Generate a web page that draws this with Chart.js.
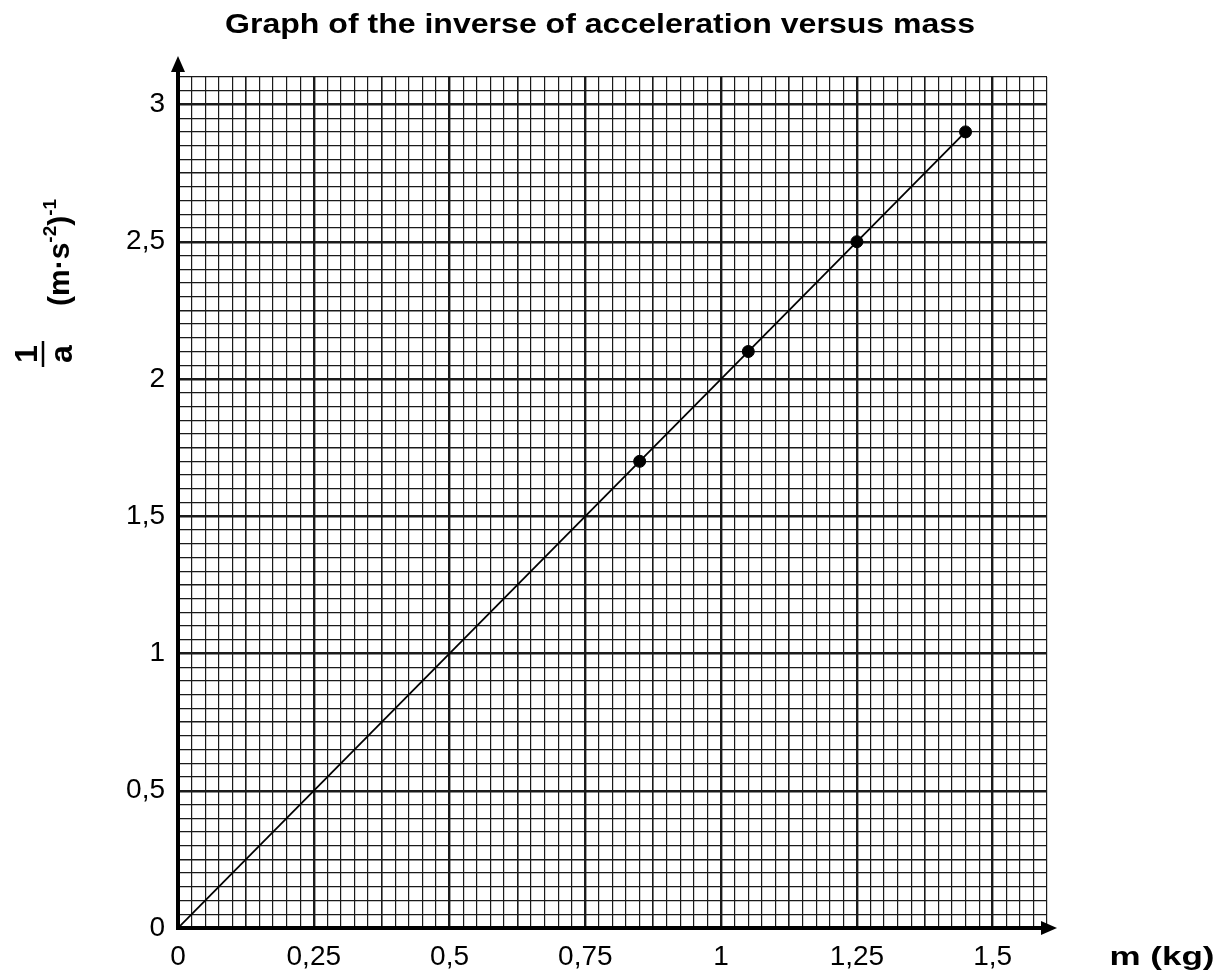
<!DOCTYPE html>
<html lang="en">
<head>
  <meta charset="UTF-8">
  <title>Inverse of acceleration versus mass</title>
  <script src="https://cdn.jsdelivr.net/npm/chart.js"></script>
  <style>
    html, body { margin: 0; padding: 0; background: #fff; }
    #wrap { width: 1216px; height: 975px; }
  </style>
</head>
<body>
  <div id="wrap"><canvas id="myChart" width="1216" height="975"></canvas></div>
  <script>
    // measured points (m in kg, 1/a in (m.s-2)-1)
    const massValues = [0.85, 1.05, 1.25, 1.45];
    const inverseAccel = [1.7, 2.1, 2.5, 2.9];
    // fitted straight line through origin
    const fitMass = [0, 1.45];
    const fitInverse = [0, 2.9];
    const xTickLabels = [0, 0.25, 0.5, 0.75, 1, 1.25, 1.5];
    const yTickLabels = [0, 0.5, 1, 1.5, 2, 2.5, 3];

    const FONT = '"Liberation Sans", Arial, sans-serif';
    const fmt = v => String(v).replace('.', ',');
    const near = (v, list) => list.some(t => Math.abs(t - v) < 1e-6);

    function gridWidth(v, step) {
      const n = Math.round(v / step);
      if (n % 10 === 0) return 2.4;
      if (n % 5 === 0) return 1.6;
      return 1.2;
    }

    // draws text squeezed/stretched to a given width
    function fitText(ctx, text, cx, baseY, width, align) {
      const w = ctx.measureText(text).width;
      ctx.save();
      ctx.translate(cx, baseY);
      ctx.scale(width / w, 1);
      ctx.textAlign = align || 'center';
      ctx.fillText(text, 0, 0);
      ctx.restore();
    }

    // axes arrows + axis titles + chart title
    const decor = {
      id: 'decor',
      afterDatasetsDraw(chart) {
        const { ctx, chartArea: a } = chart;
        ctx.save();
        ctx.fillStyle = '#000';
        ctx.strokeStyle = '#000';
        ctx.lineWidth = 4;
        ctx.beginPath();
        ctx.moveTo(a.left, a.bottom + 2);
        ctx.lineTo(a.left, 66);
        ctx.moveTo(a.left - 2, a.bottom);
        ctx.lineTo(1045, a.bottom);
        ctx.stroke();
        // arrow heads
        ctx.beginPath();
        ctx.moveTo(a.left, 56);
        ctx.lineTo(a.left - 7, 72);
        ctx.lineTo(a.left + 7, 72);
        ctx.closePath();
        ctx.fill();
        ctx.beginPath();
        ctx.moveTo(1057, a.bottom);
        ctx.lineTo(1041, a.bottom - 7);
        ctx.lineTo(1041, a.bottom + 7);
        ctx.closePath();
        ctx.fill();

        ctx.textBaseline = 'alphabetic';

        // title
        ctx.font = 'bold 28px ' + FONT;
        fitText(ctx, 'Graph of the inverse of acceleration versus mass', 600, 33, 750);

        // x axis title
        ctx.font = 'bold 25px ' + FONT;
        fitText(ctx, 'm (kg)', 1162, 965, 105);

        // y axis title (rotated): fraction 1/a then unit
        ctx.save();
        ctx.rotate(-Math.PI / 2);
        ctx.textAlign = 'center';
        ctx.font = 'bold 32px ' + FONT;
        ctx.fillText('1', -354, 37);
        ctx.lineWidth = 2.5;
        ctx.beginPath();
        ctx.moveTo(-367, 43);
        ctx.lineTo(-341, 43);
        ctx.stroke();
        ctx.fillText('a', -354, 72);
        // unit (m·s-2)-1
        ctx.textAlign = 'left';
        let x = -306;
        const base = 69;
        const part = (t, size, dy) => {
          ctx.font = 'bold ' + size + 'px ' + FONT;
          ctx.fillText(t, x, base + dy);
          x += ctx.measureText(t).width;
        };
        part('(m·s', 30, 0);
        part('-2', 19, -13);
        part(')', 30, 0);
        part('-1', 19, -13);
        ctx.restore();
        ctx.restore();
      }
    };

    new Chart(document.getElementById('myChart'), {
      type: 'scatter',
      data: {
        datasets: [
          {
            label: 'fit',
            data: fitMass.map((m, i) => ({ x: m, y: fitInverse[i] })),
            showLine: true,
            borderColor: '#000',
            borderWidth: 1.8,
            pointRadius: 0,
            fill: false
          },
          {
            label: 'measurements',
            data: massValues.map((m, i) => ({ x: m, y: inverseAccel[i] })),
            backgroundColor: '#000',
            borderColor: '#000',
            pointRadius: 6
          }
        ]
      },
      options: {
        responsive: false,
        animation: false,
        layout: { padding: { left: 0, top: 77, right: 169, bottom: 0 } },
        plugins: {
          legend: { display: false },
          tooltip: { enabled: false },
          title: { display: false }
        },
        scales: {
          x: {
            type: 'linear',
            min: 0,
            max: 1.6,
            border: { display: false },
            afterFit(scale) { scale.height = 47; },
            grid: {
              color: '#1a1a1a',
              lineWidth: c => gridWidth(c.tick ? c.tick.value : 0, 0.025),
              drawTicks: false
            },
            ticks: {
              stepSize: 0.025,
              autoSkip: false,
              maxRotation: 0,
              padding: 12,
              color: '#000',
              font: { family: FONT, size: 28 },
              callback: v => near(v, xTickLabels) ? fmt(Math.round(v * 100) / 100) : ''
            }
          },
          y: {
            type: 'linear',
            min: 0,
            max: 3.1,
            border: { display: false },
            afterFit(scale) { scale.width = 178; },
            grid: {
              color: '#1a1a1a',
              lineWidth: c => gridWidth(c.tick ? c.tick.value : 0, 0.05),
              drawTicks: false
            },
            ticks: {
              stepSize: 0.05,
              autoSkip: false,
              padding: 13,
              color: '#000',
              font: { family: FONT, size: 28 },
              callback: v => near(v, yTickLabels) ? fmt(Math.round(v * 10) / 10) : ''
            }
          }
        }
      },
      plugins: [decor]
    });
  </script>
</body>
</html>
